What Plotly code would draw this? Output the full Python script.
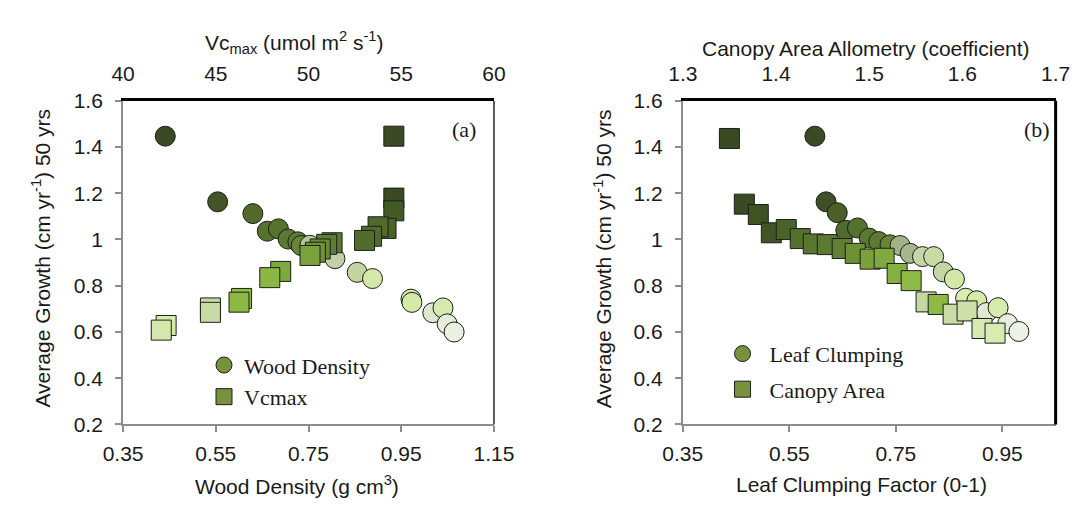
import plotly.graph_objects as go

# ---------------- data: panel (a) ----------------
wood_density = [0.441, 0.554, 0.630, 0.661, 0.685, 0.706, 0.727, 0.734, 0.753, 0.807,
                0.855, 0.888, 0.971, 0.973, 1.018, 1.040, 1.049, 1.064]
wood_growth = [1.447, 1.163, 1.112, 1.036, 1.046, 1.002, 0.990, 0.974, 0.975, 0.917,
               0.858, 0.831, 0.742, 0.728, 0.683, 0.704, 0.635, 0.600]

vcmax = [54.6, 54.6, 54.6, 54.18, 53.75, 53.40, 53.02, 51.27, 50.98, 50.63,
         50.37, 50.08, 48.50, 47.91, 46.39, 46.25, 44.71, 44.71, 42.32, 42.06]
vcmax_growth = [1.447, 1.179, 1.124, 1.048, 1.055, 1.014, 0.996, 0.986, 0.979, 0.959,
                0.945, 0.931, 0.862, 0.835, 0.745, 0.729, 0.704, 0.685, 0.628, 0.608]

# ---------------- data: panel (b) ----------------
leaf_clumping = [0.598, 0.619, 0.640, 0.656, 0.678, 0.700, 0.718, 0.739, 0.758, 0.777,
                 0.800, 0.821, 0.839, 0.860, 0.881, 0.902, 0.920, 0.942, 0.960, 0.981]
leaf_growth = [1.447, 1.163, 1.116, 1.040, 1.050, 1.006, 0.991, 0.977, 0.974, 0.940,
               0.926, 0.926, 0.860, 0.829, 0.746, 0.735, 0.684, 0.705, 0.636, 0.602]

canopy_area = [1.350, 1.366, 1.381, 1.395, 1.411, 1.426, 1.440, 1.455, 1.471, 1.485,
               1.501, 1.516, 1.530, 1.545, 1.561, 1.574, 1.590, 1.605, 1.621, 1.635]
canopy_growth = [1.437, 1.153, 1.108, 1.029, 1.043, 1.004, 0.981, 0.978, 0.961, 0.940,
                 0.915, 0.919, 0.853, 0.822, 0.730, 0.719, 0.677, 0.691, 0.615, 0.595]

# tick settings
y_ticks = [0.2, 0.4, 0.6, 0.8, 1.0, 1.2, 1.4, 1.6]

# ---------------- styles ----------------
wood_colors = ["#3a4a22", "#435527", "#4f6a2a", "#56732e", "#56732e", "#5b7a30", "#5e7d31",
               "#66853a", "#b8c99a", "#c2d1a8", "#c3d6a0", "#d4e8a8", "#d2e8a4", "#d6eaa8",
               "#dde6cf", "#d6eab0", "#e6ecdc", "#ecf0e2"]
vcmax_colors = ["#3a4a22", "#3a4a22", "#435a28", "#4a6328", "#4f6a2b", "#506b2b", "#516d2c",
                "#5a7a30", "#5e7f32", "#688a35", "#6f9238", "#7aa23d", "#7fa83d", "#8ab842",
                "#8fbf45", "#8cb843", "#c8dba6", "#c8dba6", "#d6eab0", "#d3e8ab"]
leaf_colors = ["#3a4a22", "#3f5024", "#4a6028", "#4f6a2a", "#55722d", "#597830", "#5c7b31",
               "#66863a", "#9fb288", "#a5b78f", "#c5d7a6", "#c8dba5", "#c4d6a4", "#d3e8a8",
               "#d8edb0", "#d8eaaa", "#e1e8d4", "#d6ecae", "#e8eedd", "#eef1e6"]
canopy_colors = ["#3a4a22", "#3a4a22", "#3f5224", "#415426", "#4a6329", "#53702c", "#587630",
                 "#5b7a30", "#627f34", "#6d9236", "#7aa23b", "#80aa3e", "#84b03f", "#8dbb45",
                 "#c4d8a0", "#8cba44", "#c9dca6", "#cde0a8", "#d5eab0", "#d8ecb2"]
LEG_COLOR = "#76923c"
EDGE = "#1e1e1e"
SANS = "Liberation Sans, Arial, sans-serif"
SERIF = "Liberation Serif, Times New Roman, serif"
TXT = "#1a1a1a"
GRAY = "#8c8c8c"
MSIZE = 20

W, H = 1092, 508
A_X = (107 / W, 492 / W)
B_X = (688 / W, 1075 / W)
Y_DOM = ((H - 432) / H, (H - 93) / H)

fig = go.Figure()

def mk(color, symbol):
    return dict(size=MSIZE, color=color, symbol=symbol, line=dict(color=EDGE, width=1), opacity=1)

# panel (a)
fig.add_trace(go.Scatter(x=wood_density, y=wood_growth, mode="markers", xaxis="x", yaxis="y",
                         marker=mk(wood_colors, "circle"), showlegend=False))
fig.add_trace(go.Scatter(x=vcmax, y=vcmax_growth, mode="markers", xaxis="x2", yaxis="y",
                         marker=mk(vcmax_colors, "square"), showlegend=False))
# panel (b)
fig.add_trace(go.Scatter(x=leaf_clumping, y=leaf_growth, mode="markers", xaxis="x3", yaxis="y2",
                         marker=mk(leaf_colors, "circle"), showlegend=False))
fig.add_trace(go.Scatter(x=canopy_area, y=canopy_growth, mode="markers", xaxis="x4", yaxis="y2",
                         marker=mk(canopy_colors, "square"), showlegend=False))

# legend entries
fig.add_trace(go.Scatter(x=[None], y=[None], mode="markers", name="Wood Density", xaxis="x", yaxis="y",
                         marker=mk(LEG_COLOR, "circle"), legend="legend"))
fig.add_trace(go.Scatter(x=[None], y=[None], mode="markers", name="Vcmax", xaxis="x", yaxis="y",
                         marker=mk(LEG_COLOR, "square"), legend="legend"))
fig.add_trace(go.Scatter(x=[None], y=[None], mode="markers", name="Leaf Clumping", xaxis="x3", yaxis="y2",
                         marker=mk(LEG_COLOR, "circle"), legend="legend2", legendgroup="g1"))
fig.add_trace(go.Scatter(x=[None], y=[None], mode="markers", name="Canopy Area", xaxis="x3", yaxis="y2",
                         marker=mk(LEG_COLOR, "square"), legend="legend2", legendgroup="g2"))

tickfont = dict(family=SANS, size=21, color=TXT)

def bottom_axis(domain, rng, anchor):
    return dict(domain=domain, range=rng, tick0=0.35, dtick=0.2, anchor=anchor,
                showline=True, linecolor=GRAY, linewidth=2, ticks="outside", ticklen=6,
                tickcolor=GRAY, tickwidth=2, showgrid=False, zeroline=False,
                tickfont=tickfont, ticklabelstandoff=3, fixedrange=True)

def top_axis(overlay, rng, dtick, tick0, anchor):
    return dict(overlaying=overlay, side="top", range=rng, dtick=dtick, tick0=tick0, anchor=anchor,
                showline=True, linecolor="black", linewidth=3, ticks="", showgrid=False,
                zeroline=False, tickfont=tickfont, ticklabelstandoff=8, fixedrange=True)

def y_axis(anchor):
    return dict(domain=Y_DOM, range=[0.2, 1.6], tickvals=y_ticks, anchor=anchor,
                showline=True, linecolor=GRAY, linewidth=2, ticks="outside", ticklen=6,
                tickcolor=GRAY, tickwidth=2, showgrid=False, zeroline=False,
                tickfont=tickfont, ticklabelstandoff=8, fixedrange=True)

fig.update_layout(
    width=W, height=H,
    margin=dict(l=0, r=0, t=0, b=0),
    paper_bgcolor="white", plot_bgcolor="white",
    xaxis=bottom_axis(A_X, [0.35, 1.15], "y"),
    xaxis2=top_axis("x", [40, 60], 5, 40, "y"),
    xaxis3=bottom_axis(B_X, [0.35, 1.05], "y2"),
    xaxis4=top_axis("x3", [1.3, 1.7], 0.1, 1.3, "y2"),
    yaxis=y_axis("x"),
    yaxis2=y_axis("x3"),
    legend=dict(x=191 / W, y=(H - 348) / H, xanchor="left", yanchor="top",
                bgcolor="rgba(0,0,0,0)", font=dict(family=SERIF, size=22, color=TXT),
                itemsizing="trace"),
    legend2=dict(x=722 / W, y=(H - 336) / H, xanchor="left", yanchor="top",
                 bgcolor="rgba(0,0,0,0)", font=dict(family=SERIF, size=22, color=TXT),
                 traceorder="grouped", tracegroupgap=4, itemsizing="trace", itemwidth=44),
    shapes=[
        dict(type="line", xref="paper", yref="paper", x0=A_X[1], x1=A_X[1], y0=Y_DOM[0], y1=Y_DOM[1],
             line=dict(color="#5a5a5a", width=2)),
        dict(type="line", xref="paper", yref="paper", x0=B_X[1], x1=B_X[1], y0=Y_DOM[0], y1=Y_DOM[1],
             line=dict(color="black", width=3)),
    ],
    annotations=[
        dict(text="Vc<sub>max</sub> (umol m<sup>2</sup> s<sup>-1</sup>)", x=285 / W, y=(H - 32) / H,
             xref="paper", yref="paper", showarrow=False, font=dict(family=SANS, size=21, color=TXT),
             xanchor="center", yanchor="middle"),
        dict(text="Wood Density (g cm<sup>3</sup>)", x=288 / W, y=(H - 495) / H,
             xref="paper", yref="paper", showarrow=False, font=dict(family=SANS, size=21, color=TXT),
             xanchor="center", yanchor="middle"),
        dict(text="Canopy Area Allometry (coefficient)", x=878 / W, y=(H - 38) / H,
             xref="paper", yref="paper", showarrow=False, font=dict(family=SANS, size=21, color=TXT),
             xanchor="center", yanchor="middle"),
        dict(text="Leaf Clumping Factor (0-1)", x=873 / W, y=(H - 495) / H,
             xref="paper", yref="paper", showarrow=False, font=dict(family=SANS, size=21, color=TXT),
             xanchor="center", yanchor="middle"),
        dict(text="Average Growth (cm yr<sup>-1</sup>) 50 yrs", x=22 / W, y=(H - 258) / H, textangle=-90,
             xref="paper", yref="paper", showarrow=False, font=dict(family=SANS, size=21, color=TXT),
             xanchor="center", yanchor="middle"),
        dict(text="Average Growth (cm yr<sup>-1</sup>) 50 yrs", x=605 / W, y=(H - 258) / H, textangle=-90,
             xref="paper", yref="paper", showarrow=False, font=dict(family=SANS, size=21, color=TXT),
             xanchor="center", yanchor="middle"),
        dict(text="(a)", x=461 / W, y=(H - 123) / H, xref="paper", yref="paper", showarrow=False,
             font=dict(family=SERIF, size=22, color=TXT), xanchor="center", yanchor="middle"),
        dict(text="(b)", x=1056 / W, y=(H - 123) / H, xref="paper", yref="paper", showarrow=False,
             font=dict(family=SERIF, size=22, color=TXT), xanchor="center", yanchor="middle"),
    ],
)

fig.write_html("out.html")
